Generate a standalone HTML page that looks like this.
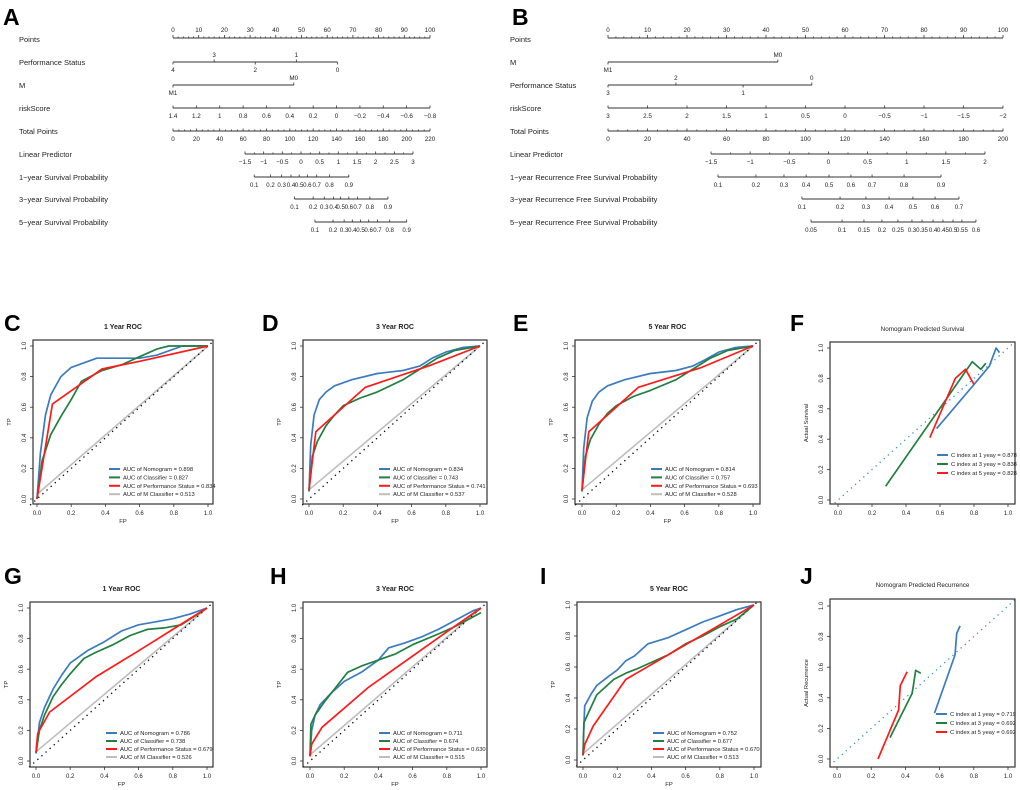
<!DOCTYPE html>
<html><head><meta charset="utf-8">
<style>
html,body{margin:0;padding:0;background:#fff;}
svg{display:block;font-family:"Liberation Sans",Arial,sans-serif;}
</style></head>
<body>
<svg id="fig" width="1020" height="790" viewBox="0 0 1020 790" xmlns="http://www.w3.org/2000/svg"></svg>
<script>
// ---------- DATA ----------
// Nomogram A
const A_pointsTicks=[0,10,20,30,40,50,60,70,80,90,100];
const A_psLevels=["4","3","2","1","0"];
const A_psPoints=[0,16,32,48,64];
const A_mLevels=["M1","M0"];
const A_mPoints=[0,47];
const A_riskTicks=[1.4,1.2,1,0.8,0.6,0.4,0.2,0,-0.2,-0.4,-0.6,-0.8];
const A_totalTicks=[0,20,40,60,80,100,120,140,160,180,200,220];
const A_lpTicks=[-1.5,-1,-0.5,0,0.5,1,1.5,2,2.5,3];
const A_prob=[0.1,0.2,0.3,0.4,0.5,0.6,0.7,0.8,0.9];
const A_p1Total=[69.5,83.5,93,101,108,115,123,134,150.5];
const A_p3Total=[104,120,129.5,137.5,143.5,150.5,158,168.5,184];
const A_p5Total=[121.5,137,146.5,153.5,160.5,167.5,175,185.5,200];
// Nomogram B
const B_pointsTicks=[0,10,20,30,40,50,60,70,80,90,100];
const B_mLevels=["M1","M0"];
const B_mPoints=[0,43];
const B_psLevels=["3","2","1","0"];
const B_psPoints=[0,17.2,34.2,51.6];
const B_riskTicks=[3,2.5,2,1.5,1,0.5,0,-0.5,-1,-1.5,-2];
const B_totalTicks=[0,20,40,60,80,100,120,140,160,180,200];
const B_lpTicks=[-1.5,-1,-0.5,0,0.5,1,1.5,2];
const B_p1=[0.1,0.2,0.3,0.4,0.5,0.6,0.7,0.8,0.9];
const B_p1Total=[55.7,74.9,89.1,100.3,111.9,123,133.7,149.9,168.6];
const B_p3=[0.1,0.2,0.3,0.4,0.5,0.6,0.7];
const B_p3Total=[98.2,117.5,130.6,142.3,154.4,165.6,177.7];
const B_p5=[0.05,0.1,0.15,0.2,0.25,0.3,0.35,0.4,0.45,0.5,0.55,0.6];
const B_p5Labels=["0.05","0.1","0.15","0.2","0.25","0.3","0.35","0.4","0.45","0.5","0.55","0.6"];
const B_p5Total=[102.8,118.5,129.6,138.7,146.8,153.9,159,164.6,169.6,174.7,179.2,186.3];

// ROC C (1 year OS)
const C_nomo=[[0,0],[0.02,0.3],[0.05,0.55],[0.08,0.68],[0.14,0.8],[0.2,0.86],[0.35,0.92],[0.6,0.92],[0.7,0.94],[0.85,1],[1,1]];
const C_clas=[[0,0],[0.03,0.25],[0.08,0.42],[0.14,0.54],[0.2,0.65],[0.26,0.77],[0.38,0.84],[0.5,0.88],[0.6,0.93],[0.7,0.98],[0.77,1],[1,1]];
const C_ps=[[0,0],[0.09,0.62],[0.38,0.85],[0.6,0.9],[1,1]];
const C_m=[[0,0.03],[1,1]];
const C_auc=["0.898","0.827","0.834","0.513"];
// ROC D (3 year OS)
const D_nomo=[[0,0.05],[0.01,0.35],[0.03,0.55],[0.06,0.65],[0.1,0.7],[0.15,0.74],[0.25,0.78],[0.4,0.82],[0.55,0.84],[0.65,0.87],[0.72,0.92],[0.8,0.96],[0.9,0.99],[1,1]];
const D_clas=[[0,0.05],[0.02,0.28],[0.05,0.38],[0.1,0.48],[0.15,0.55],[0.2,0.61],[0.3,0.66],[0.4,0.7],[0.55,0.78],[0.65,0.85],[0.75,0.92],[0.85,0.97],[1,1]];
const D_ps=[[0,0.06],[0.04,0.44],[0.33,0.73],[0.7,0.87],[1,1]];
const D_m=[[0,0.06],[1,1]];
const D_auc=["0.834","0.743","0.741","0.537"];
// ROC E (5 year OS)
const E_nomo=[[0,0.05],[0.01,0.33],[0.03,0.53],[0.06,0.64],[0.1,0.7],[0.15,0.74],[0.25,0.78],[0.4,0.82],[0.55,0.84],[0.65,0.87],[0.72,0.91],[0.8,0.96],[0.9,0.99],[1,1]];
const E_clas=[[0,0.05],[0.02,0.28],[0.05,0.39],[0.1,0.49],[0.15,0.56],[0.2,0.61],[0.3,0.67],[0.4,0.71],[0.55,0.78],[0.65,0.85],[0.75,0.92],[0.85,0.97],[1,1]];
const E_ps=[[0,0.06],[0.04,0.44],[0.33,0.73],[0.7,0.86],[1,1]];
const E_m=[[0,0.06],[1,1]];
const E_auc=["0.814","0.757","0.693","0.528"];
// ROC G (1 year RFS)
const G_nomo=[[0,0.05],[0.02,0.25],[0.05,0.35],[0.1,0.47],[0.15,0.56],[0.2,0.64],[0.3,0.72],[0.4,0.78],[0.5,0.85],[0.6,0.89],[0.7,0.91],[0.8,0.93],[0.9,0.96],[1,1]];
const G_clas=[[0,0.05],[0.02,0.2],[0.05,0.3],[0.1,0.42],[0.15,0.5],[0.2,0.57],[0.28,0.67],[0.35,0.71],[0.45,0.76],[0.55,0.82],[0.65,0.86],[0.75,0.87],[0.85,0.89],[1,1]];
const G_ps=[[0,0.06],[0.01,0.18],[0.08,0.32],[0.35,0.55],[0.6,0.72],[0.8,0.86],[1,1]];
const G_m=[[0,0.06],[1,1]];
const G_auc=["0.786","0.738","0.679","0.526"];
// ROC H (3 year RFS)
const H_nomo=[[0,0.03],[0.01,0.2],[0.03,0.3],[0.06,0.37],[0.12,0.44],[0.2,0.52],[0.3,0.58],[0.4,0.66],[0.46,0.74],[0.55,0.77],[0.65,0.81],[0.75,0.86],[0.85,0.92],[0.95,0.98],[1,1]];
const H_clas=[[0,0.03],[0.005,0.24],[0.03,0.3],[0.08,0.38],[0.15,0.48],[0.22,0.58],[0.3,0.62],[0.4,0.66],[0.5,0.7],[0.6,0.76],[0.75,0.83],[0.85,0.88],[1,0.97]];
const H_ps=[[0,0.03],[0.01,0.11],[0.07,0.22],[0.34,0.48],[0.82,0.86],[1,1]];
const H_m=[[0,0.04],[1,1]];
const H_auc=["0.711","0.674","0.630","0.515"];
// ROC I (5 year RFS)
const I_nomo=[[0,0.03],[0.005,0.22],[0.01,0.35],[0.05,0.43],[0.08,0.48],[0.15,0.54],[0.2,0.58],[0.25,0.64],[0.3,0.67],[0.38,0.75],[0.5,0.79],[0.6,0.84],[0.7,0.89],[0.8,0.93],[0.9,0.97],[1,1]];
const I_clas=[[0,0.03],[0.005,0.24],[0.03,0.3],[0.08,0.42],[0.12,0.46],[0.18,0.52],[0.25,0.56],[0.32,0.59],[0.4,0.63],[0.5,0.68],[0.6,0.75],[0.7,0.8],[0.8,0.86],[0.9,0.91],[1,1]];
const I_ps=[[0,0.03],[0.01,0.1],[0.06,0.22],[0.25,0.52],[0.5,0.68],[0.75,0.84],[1,1]];
const I_m=[[0,0.04],[1,1]];
const I_auc=["0.752","0.677","0.670","0.513"];
// Calibration F
const F_y1=[[0.58,0.47],[0.8,0.76],[0.89,0.88],[0.93,1.0],[0.95,0.97]];
const F_y3=[[0.28,0.09],[0.79,0.91],[0.84,0.86],[0.87,0.9]];
const F_y5=[[0.54,0.41],[0.69,0.8],[0.75,0.86],[0.8,0.76]];
const F_c=["0.878","0.838","0.828"];
// Calibration J
const J_y1=[[0.57,0.3],[0.69,0.68],[0.7,0.82],[0.72,0.87]];
const J_y3=[[0.31,0.14],[0.44,0.43],[0.46,0.58],[0.49,0.56]];
const J_y5=[[0.24,0],[0.36,0.32],[0.37,0.48],[0.41,0.57]];
const J_c=["0.719","0.692","0.692"];

const AXIS01=[0,0.2,0.4,0.6,0.8,1];
const COL={blue:"#3b7bbf",green:"#1f8040",red:"#ff1a1a",gray:"#bdbdbd"};

// ---------- HELPERS ----------
const NS="http://www.w3.org/2000/svg";
const svg=document.getElementById('fig');
function mk(tag,attrs,parent){const e=document.createElementNS(NS,tag);for(const k in attrs)e.setAttribute(k,attrs[k]);(parent||svg).appendChild(e);return e;}
function txt(s,x,y,size,parent,opts){opts=opts||{};const t=mk('text',{x:x,y:y,'font-size':size,fill:opts.fill||'#222','text-anchor':opts.anchor||'middle','font-weight':opts.bold?'bold':'normal'},parent);if(opts.rot)t.setAttribute('transform','rotate(-90 '+x+' '+y+')');t.textContent=s;return t;}
function fmt(v){let s=String(Math.round(v*100)/100);if(s.indexOf('-')===0)s='\u2212'+s.slice(1);return s;}
function fmt1(v){return v.toFixed(1);}

// ---------- NOMOGRAM ----------
function nomogram(g,labelX,x0,x1,rows){
  // x0/x1 = pixel positions of 0 and 100 points
  return function(p){return x0+(x1-x0)*p/100;};
}
function hline(g,xa,xb,y){mk('line',{x1:xa,y1:y,x2:xb,y2:y,stroke:'#333','stroke-width':1},g);}
function tick(g,x,y,len){mk('line',{x1:x,y1:y,x2:x,y2:y+len,stroke:'#333','stroke-width':0.8},g);}

function buildNomo(id,letterX,labelX,x0,x1,cfg){
  const g=mk('g',{});
  
  
  const L=txt(id==='nomogram-a'?'A':'B',letterX,25,23,g,{anchor:'start',bold:true,fill:'#000'});
  
  
  const px=p=>x0+(x1-x0)*p/100;
  const ys=[39,62,85,108,131,154,177,199,222];
  cfg.labels.forEach((s,i)=>{const t=txt(s,labelX,ys[i]+3,7.5,g,{anchor:'start'});});
  // Points
  hline(g,px(0),px(100),38);
  for(let v=0;v<=100;v+=2){tick(g,px(v),38,v%10===0?-3:-1.5);}
  cfg.points.forEach(v=>txt(String(v),px(v),32,6.3,g));
  // categorical rows
  cfg.cats.forEach(c=>{
    const y=ys[c.row];
    hline(g,px(Math.min(...c.pts)),px(Math.max(...c.pts)),y);
    c.pts.forEach((p,i)=>{const up=c.up[i];tick(g,px(p),y,up?-2.5:2.5);txt(c.lv[i],px(p),up?y-5:y+10,6.3,g);});
  });
  // riskScore
  const rk=cfg.risk, ry=ys[3];
  hline(g,px(0),px(100),ry);
  rk.forEach((v,i)=>{const x=px(100*i/(rk.length-1));tick(g,x,ry,-2.5);txt(fmt(v),x,ry+10,6.3,g);});
  // total points
  const tt=cfg.total, ty=ys[4], tmax=tt[tt.length-1];
  const tx=t=>px(100*t/tmax);
  hline(g,tx(0),tx(tmax),ty);
  for(let v=0;v<=tmax;v+=5){tick(g,tx(v),ty,v%20===0?-2.5:-1.5);}
  tt.forEach(v=>txt(String(v),tx(v),ty+10,6.3,g));
  // linear predictor
  const lp=cfg.lp, ly=ys[5];
  const lx=v=>cfg.lpA+(cfg.lpB-cfg.lpA)*(v-lp[0])/(lp[lp.length-1]-lp[0]);
  hline(g,lx(lp[0]),lx(lp[lp.length-1]),ly);
  for(let i=0;i<lp.length;i++){tick(g,lx(lp[i]),ly,-2.5);if(i<lp.length-1)tick(g,lx(lp[i]+0.25),ly,-1.5);txt(fmt(lp[i]),lx(lp[i]),ly+10,6.3,g);}
  // probability rows
  cfg.probs.forEach((pr,k)=>{
    const y=ys[6+k];
    hline(g,tx(pr.t[0]),tx(pr.t[pr.t.length-1]),y);
    pr.t.forEach((t,i)=>{tick(g,tx(t),y,-2.5);txt(pr.lab[i],tx(t),y+10,6.1,g);});
  });
}

buildNomo('nomogram-a',3,19,173,430,{
  labels:["Points","Performance Status","M","riskScore","Total Points","Linear Predictor","1\u2212year Survival Probability","3\u2212year Survival Probability","5\u2212year Survival Probability"],
  points:A_pointsTicks,
  cats:[{row:1,pts:A_psPoints,lv:A_psLevels,up:[false,true,false,true,false]},{row:2,pts:A_mPoints,lv:A_mLevels,up:[false,true]}],
  risk:A_riskTicks,total:A_totalTicks,lp:A_lpTicks,lpA:245,lpB:413,
  probs:[{t:A_p1Total,lab:A_prob.map(fmt1)},{t:A_p3Total,lab:A_prob.map(fmt1)},{t:A_p5Total,lab:A_prob.map(fmt1)}]
});
buildNomo('nomogram-b',512,510,608,1003,{
  labels:["Points","M","Performance Status","riskScore","Total Points","Linear Predictor","1\u2212year Recurrence Free Survival Probability","3\u2212year Recurrence Free Survival Probability","5\u2212year Recurrence Free Survival Probability"],
  points:B_pointsTicks,
  cats:[{row:1,pts:B_mPoints,lv:B_mLevels,up:[false,true]},{row:2,pts:B_psPoints,lv:B_psLevels,up:[false,true,false,true]}],
  risk:B_riskTicks,total:B_totalTicks,lp:B_lpTicks,lpA:711,lpB:985,
  probs:[{t:B_p1Total,lab:B_p1.map(fmt1)},{t:B_p3Total,lab:B_p3.map(fmt1)},{t:B_p5Total,lab:B_p5Labels}]
});

// ---------- ROC / CALIBRATION PANELS ----------
function panel(o){
  const g=mk('g',{});
  
  
  const sx=v=>o.x0+(o.x1-o.x0)*v, sy=v=>o.y0+(o.y1-o.y0)*v;
  const L=txt(o.letter,o.lx,o.ly,23,g,{anchor:'start',bold:true,fill:'#000'});
  
  
  const T=txt(o.title,(o.bl+o.br)/2,o.ty,o.calib?6.3:7,g,{bold:!o.calib});
  
  
  // reference lines
  if(!o.calib){
    const gr=mk('line',{x1:sx(o.m[0][0]),y1:sy(o.m[0][1]),x2:sx(o.m[1][0]),y2:sy(o.m[1][1]),stroke:COL.gray,'stroke-width':1.6},g);
    
    
    const d=mk('line',{x1:sx(-0.04),y1:sy(-0.04),x2:sx(1.03),y2:sy(1.03),stroke:'#000','stroke-width':1.3,'stroke-dasharray':'1.3 4.2'},g);
    
    
  } else {
    const d=mk('line',{x1:sx(-0.02),y1:sy(-0.02),x2:sx(1.04),y2:sy(1.04),stroke:'#3b8fd9','stroke-width':1.3,'stroke-dasharray':'1.3 4.2'},g);
    
    
  }
  o.series.forEach(s=>{
    const pl=mk('polyline',{points:s.d.map(p=>sx(p[0]).toFixed(1)+','+sy(p[1]).toFixed(1)).join(' '),fill:'none',stroke:s.c,'stroke-width':1.7,'stroke-linejoin':'round'},g);
    
    
  });
  // box
  mk('rect',{x:o.bl,y:o.bt,width:o.br-o.bl,height:o.bb-o.bt,fill:'none',stroke:'#333','stroke-width':1.2},g);
  // axes
  AXIS01.forEach(v=>{
    mk('line',{x1:sx(v),y1:o.bb,x2:sx(v),y2:o.bb+3,stroke:'#333','stroke-width':0.8},g);
    txt(v.toFixed(1),sx(v),o.bb+11,6,g);
    mk('line',{x1:o.bl,y1:sy(v),x2:o.bl-3,y2:sy(v),stroke:'#333','stroke-width':0.8},g);
    txt(v.toFixed(1),o.bl-7,sy(v),6,g,{rot:true});
  });
  if(o.xlab){const xl=txt(o.xlab,(o.bl+o.br)/2,o.bb+19,5.8,g);}
  const yl=txt(o.ylab,o.bl-22,(o.bt+o.bb)/2,5.8,g,{rot:true});
  
  
  // legend
  o.legend.forEach((e,i)=>{
    const y=o.legY+i*o.legDy;
    const lg=mk('g',{},g);
    
    
    mk('line',{x1:o.legX,y1:y,x2:o.legX+11,y2:y,stroke:e.c,'stroke-width':2},lg);
    txt(e.t,o.legX+14,y+2,5.8,lg,{anchor:'start'});
  });
}
function rocSeries(n,c,p,m){return [{n:'nomogram-roc',c:COL.blue,d:n},{n:'classifier-roc',c:COL.green,d:c},{n:'performance-status-roc',c:COL.red,d:p}];}
function rocLegend(a){return [{c:COL.blue,t:'AUC of Nomogram = '+a[0]},{c:COL.green,t:'AUC of Classifier = '+a[1]},{c:COL.red,t:'AUC of Performance Status = '+a[2]},{c:COL.gray,t:'AUC of M Classifier = '+a[3]}];}
function calLegend(a){return [{c:COL.blue,t:'C index at 1 yeay = '+a[0]},{c:COL.green,t:'C index at 3 yeay = '+a[1]},{c:COL.red,t:'C index at 5 yeay = '+a[2]}];}

const row1={y0:499,y1:346,bt:340,bb:504,ty:329,ly:331,legY:469,legDy:8.4};
const row2={y0:761,y1:608,bt:602,bb:767,ty:591,ly:584,legY:733,legDy:8};
function roc(name,letter,lx,bl,br,x0,x1,row,title,N,C,P,M,auc){
  panel(Object.assign({name:name,letter:letter,lx:lx,bl:bl,br:br,x0:x0,x1:x1,title:title,xlab:'FP',ylab:'TP',m:M,
    series:rocSeries(N,C,P),legend:rocLegend(auc),legX:bl+76},row));
}
roc('roc-1-year-os','C',4,33,213,37,208,row1,'1 Year ROC',C_nomo,C_clas,C_ps,C_m,C_auc);
roc('roc-3-year-os','D',262,303,487,309,480,row1,'3 Year ROC',D_nomo,D_clas,D_ps,D_m,D_auc);
roc('roc-5-year-os','E',513,575,760,582,753,row1,'5 Year ROC',E_nomo,E_clas,E_ps,E_m,E_auc);
roc('roc-1-year-rfs','G',4,30,213,36,207,row2,'1 Year ROC',G_nomo,G_clas,G_ps,G_m,G_auc);
roc('roc-3-year-rfs','H',270,303,487,310,481,row2,'3 Year ROC',H_nomo,H_clas,H_ps,H_m,H_auc);
roc('roc-5-year-rfs','I',540,577,761,583,754,Object.assign({},row2,{y0:760,y1:605}),'5 Year ROC',I_nomo,I_clas,I_ps,I_m,I_auc);

panel({name:'calibration-survival',letter:'F',lx:790,ly:331,bl:830,br:1015,bt:342,bb:504,x0:838,x1:1008,y0:500,y1:348,ty:331,calib:true,
  title:'Nomogram Predicted Survival',xlab:'',ylab:'Actual Survival',
  series:[{n:'calibration-1-year',c:COL.blue,d:F_y1},{n:'calibration-3-year',c:COL.green,d:F_y3},{n:'calibration-5-year',c:COL.red,d:F_y5}],
  legend:calLegend(F_c),legX:937,legY:455,legDy:9});
panel({name:'calibration-recurrence',letter:'J',lx:800,ly:584,bl:830,br:1015,bt:599,bb:767,x0:837,x1:1008,y0:759,y1:606,ty:587,calib:true,
  title:'Nomogram Predicted Recurrence',xlab:'',ylab:'Actual Recurrence',
  series:[{n:'calibration-1-year',c:COL.blue,d:J_y1},{n:'calibration-3-year',c:COL.green,d:J_y3},{n:'calibration-5-year',c:COL.red,d:J_y5}],
  legend:calLegend(J_c),legX:936,legY:714,legDy:9});
</script>
</body></html>
